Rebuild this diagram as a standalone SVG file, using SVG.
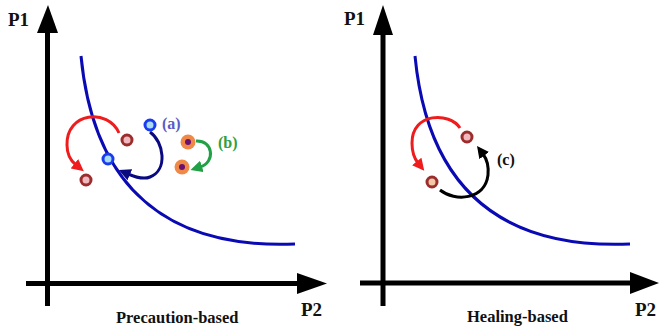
<svg xmlns="http://www.w3.org/2000/svg" width="660" height="331" viewBox="0 0 660 331">
<style>
.axis{stroke:#000;stroke-width:5;fill:none}
.head{fill:#000}
.curve{stroke:#0a0ab4;stroke-width:3;fill:none}
.lbl{font-family:"Liberation Serif","Times New Roman",serif;font-weight:bold;fill:#111}
.ax{font-size:19px}
.cap{font-size:16.5px}
.tag{font-size:16px}
.maroon{stroke:#9c2d2d;stroke-width:3}
.arc{fill:none;stroke-width:3}
</style>
<defs>
<marker id="mRed" viewBox="0 0 12 12" refX="2" refY="6" markerWidth="12" markerHeight="12" markerUnits="userSpaceOnUse" orient="auto"><path d="M0,0 L12,6 L0,12 z" fill="#ee1c1c"/></marker>
<marker id="mNavy" viewBox="0 0 12 12" refX="2" refY="6" markerWidth="12" markerHeight="12" markerUnits="userSpaceOnUse" orient="auto"><path d="M0,0 L12,6 L0,12 z" fill="#0a0a80"/></marker>
<marker id="mGreen" viewBox="0 0 12 12" refX="2" refY="6" markerWidth="12" markerHeight="12" markerUnits="userSpaceOnUse" orient="auto"><path d="M0,0 L12,6 L0,12 z" fill="#22a045"/></marker>
<marker id="mBlack" viewBox="0 0 12 12" refX="2" refY="6" markerWidth="12" markerHeight="12" markerUnits="userSpaceOnUse" orient="auto"><path d="M0,0 L12,6 L0,12 z" fill="#000"/></marker>
</defs>
<rect width="660" height="331" fill="#fff"/>

<g id="left-axes">
<line class="axis" x1="47.5" y1="30" x2="47.5" y2="306"/>
<polygon class="head" points="48,5 37,33 58,33"/>
<line class="axis" x1="26" y1="283.5" x2="300" y2="283.5"/>
<polygon class="head" points="327,283.5 297,273 297,294"/>
<text class="lbl ax" x="8" y="26">P1</text>
<text class="lbl ax" x="301" y="316">P2</text>
<text class="lbl cap" x="116" y="323">Precaution-based</text>
</g>

<g id="right-axes">
<line class="axis" x1="383" y1="30" x2="383" y2="306"/>
<polygon class="head" points="383,5 373,35 393,35"/>
<line class="axis" x1="360" y1="283" x2="633" y2="283"/>
<polygon class="head" points="659,283 630,272 630,294"/>
<text class="lbl ax" x="344" y="25">P1</text>
<text class="lbl ax" x="635" y="316">P2</text>
<text class="lbl cap" x="467" y="322">Healing-based</text>
</g>

<g id="curves">
<path class="curve" d="M81,56 C92,170 150,250 295,244"/>
<path class="curve" d="M415,56 C426,170 484,250 630,244"/>
</g>

<g id="connectors">
<path class="arc" stroke="#ee1c1c" marker-end="url(#mRed)" d="M119,133 C108,108 66,112 67,145 C67,155 71,161 76,165"/>
<path class="arc" stroke="#0a0a80" marker-end="url(#mNavy)" d="M150,132 C164,142 168,170 150,177 C143,180 135,177 128,174"/>
<path class="arc" stroke="#22a045" marker-end="url(#mGreen)" d="M196,141 C213,140 216,162 200,167"/>
<path class="arc" stroke="#ee1c1c" marker-end="url(#mRed)" d="M460,128 C450,112 412,112 412,143 C412,152 414,158 418,163"/>
<path class="arc" stroke="#000" marker-end="url(#mBlack)" d="M440,190 C455,202 485,200 488,175 C489,165 486,158 483,154"/>
</g>

<g id="node-a-start"><circle cx="150" cy="125" r="5" fill="#a8dcf0" stroke="#1a3cf0" stroke-width="3"/></g>
<g id="node-a-end"><circle cx="108" cy="159" r="5" fill="#a8dcf0" stroke="#1a3cf0" stroke-width="3"/></g>
<g id="label-a"><text class="lbl tag" x="162" y="129" style="fill:#5a5ac8">(a)</text></g>
<g id="node-red-start"><circle class="maroon" cx="127" cy="140" r="5" fill="#f2b8c0"/></g>
<g id="node-red-end"><circle class="maroon" cx="86" cy="180" r="5" fill="#f2b8c0"/></g>
<g id="node-b-start"><circle cx="188" cy="142" r="7.5" fill="#f08848"/><circle cx="188" cy="142" r="3" fill="#6a1070"/></g>
<g id="node-b-end"><circle cx="182" cy="167" r="7.5" fill="#f08848"/><circle cx="182" cy="167" r="3" fill="#6a1070"/></g>
<g id="label-b"><text class="lbl tag" x="218" y="148" style="fill:#30a040">(b)</text></g>

<g id="node-c-start"><circle class="maroon" cx="467" cy="137" r="5" fill="#f2b8c0"/></g>
<g id="node-c-end"><circle class="maroon" cx="432" cy="182" r="5" fill="#f4c8a4"/></g>
<g id="label-c"><text class="lbl tag" x="497" y="165">(c)</text></g>
</svg>
